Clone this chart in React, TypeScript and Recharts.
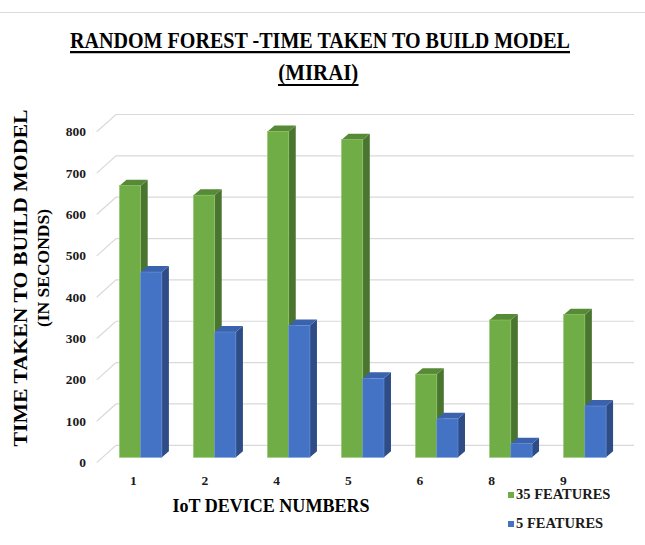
import React from "react";
import { BarChart, Bar, XAxis, YAxis, CartesianGrid, Legend } from "recharts";

const devices = ["1", "2", "4", "5", "6", "8", "9"];
const features35 = [657, 634, 788, 768, 201, 332, 345];
const features5 = [448, 303, 319, 191, 93, 33, 124];
const yTicks = [0, 100, 200, 300, 400, 500, 600, 700, 800];
const seriesNames = ["35 FEATURES", "5 FEATURES"];

const data = devices.map((d, i) => ({ device: d, f35: features35[i], f5: features5[i] }));

const SERIF = '"Liberation Serif", "Times New Roman", serif';
const DX = 7;
const DY = 6;

const palette = {
  green: { front: "#70ad47", top: "#578a36", side: "#4a7530", edge: "#8cc266" },
  blue: { front: "#4472c4", top: "#3a62ad", side: "#2e4c86", edge: "#6a90d6" },
};

// 3d column: front, top and side faces
const box = (c: typeof palette.green) => (props: any) => {
  const { x, y, width: w, height: h } = props;
  if (h == null || w == null) return null;
  return (
    <g>
      <polygon points={`${x + w},${y} ${x + w + DX},${y - DY} ${x + w + DX},${y + h - DY} ${x + w},${y + h}`} fill={c.side} />
      <polygon points={`${x},${y} ${x + DX},${y - DY} ${x + w + DX},${y - DY} ${x + w},${y}`} fill={c.top} />
      <rect x={x} y={y} width={w} height={h} fill={c.front} stroke={c.edge} strokeWidth={0.6} />
    </g>
  );
};

// back-wall gridline with the diagonal coming from the front edge
const gridLine = (p: any) => {
  const { x1, x2, y1, index } = p;
  return (
    <g key={`g-${index}`}>
      <polyline
        points={`${x1 - 6.8},${y1 + 5.3} ${x1 + 12.5},${y1 - 12} ${x2 + 12.3},${y1 - 12}`}
        fill="none"
        stroke="#d9d9d9"
        strokeWidth={1.2}
      />
    </g>
  );
};

const YTick = (p: any) => (
  <text x={p.x - 17.5} y={p.y + 5.3} textAnchor="end" dominantBaseline="central"
    fontFamily={SERIF} fontWeight="bold" fontSize={13.5} fill="#1a1a1a">
    {p.payload.value}
  </text>
);

const XTick = (p: any) => (
  <text x={133.3 + (p.x - 140.5) * 0.968} y={p.y + 22.7} textAnchor="middle" dominantBaseline="central"
    fontFamily={SERIF} fontWeight="bold" fontSize={13.5} fill="#1a1a1a">
    {p.payload.value}
  </text>
);

const LegendBox = (props: any) => (
  <div>
    {(props.payload || []).map((e: any, i: number) => (
      <div key={i} style={{ display: "flex", alignItems: "center", height: 29, fontFamily: SERIF, fontWeight: "bold", fontSize: 14.5, color: "#1a1a1a" }}>
        <span style={{ width: 6, height: 6, background: e.color, marginRight: 2 }} />
        {e.value}
      </div>
    ))}
  </div>
);

export default function App() {
  return (
    <div style={{ position: "absolute", left: 0, top: 0, width: 645, height: 545, background: "#fff" }}>
      <div style={{ position: "absolute", left: 0, top: 12, width: 645, borderTop: "1.5px solid #d9d9d9" }} />
      <BarChart
        width={645}
        height={545}
        data={data}
        margin={{ top: 126.5, right: 23.3, bottom: 57.7, left: 0 }}
        barGap={0}
        barSize={21.2}
      >
        <text x={320} y={48.3} textAnchor="middle" fontFamily={SERIF} fontWeight="bold" fontSize={22.5}
          textLength={500} lengthAdjust="spacingAndGlyphs" fill="#000">
          RANDOM FOREST -TIME TAKEN TO BUILD MODEL
        </text>
        <line x1={70} x2={570} y1={52.2} y2={52.2} stroke="#000" strokeWidth={2.2} />
        <text x={318.3} y={80} textAnchor="middle" fontFamily={SERIF} fontWeight="bold" fontSize={22.5}
          textLength={80} lengthAdjust="spacingAndGlyphs" fill="#000">
          (MIRAI)
        </text>
        <line x1={278} x2={358.5} y1={85} y2={85} stroke="#000" strokeWidth={2.2} />
        <text x={21} y={278} transform="rotate(-90 21 278)" textAnchor="middle" dominantBaseline="central"
          fontFamily={SERIF} fontWeight="bold" fontSize={18} textLength={337} lengthAdjust="spacingAndGlyphs" fill="#000">
          TIME TAKEN TO BUILD MODEL
        </text>
        <text x={43} y={268} transform="rotate(-90 43 268)" textAnchor="middle" dominantBaseline="central"
          fontFamily={SERIF} fontWeight="bold" fontSize={17.5} textLength={118} lengthAdjust="spacingAndGlyphs" fill="#000">
          (IN SECONDS)
        </text>
        <text x={271} y={505.7} textAnchor="middle" dominantBaseline="central"
          fontFamily={SERIF} fontWeight="bold" fontSize={19} textLength={197} lengthAdjust="spacingAndGlyphs" fill="#000">
          IoT DEVICE NUMBERS
        </text>
        <CartesianGrid vertical={false} horizontal={gridLine} />
        <XAxis dataKey="device" height={30} axisLine={false} tickLine={false} tickSize={0} tickMargin={0} tick={XTick} interval={0} />
        <YAxis width={103.5} domain={[0, 800]} ticks={yTicks} axisLine={false} tickLine={false} tickSize={0} tickMargin={0} tick={YTick} />
        <Legend
          layout="horizontal"
          verticalAlign="middle"
          align="center"
          content={LegendBox}
          wrapperStyle={{ position: "absolute", left: 508, top: 480, width: 132, height: 60 }}
        />
        <Bar dataKey="f35" name={seriesNames[0]} fill={palette.green.front} shape={box(palette.green)} isAnimationActive={false} />
        <Bar dataKey="f5" name={seriesNames[1]} fill={palette.blue.front} shape={box(palette.blue)} isAnimationActive={false} />
      </BarChart>
    </div>
  );
}
